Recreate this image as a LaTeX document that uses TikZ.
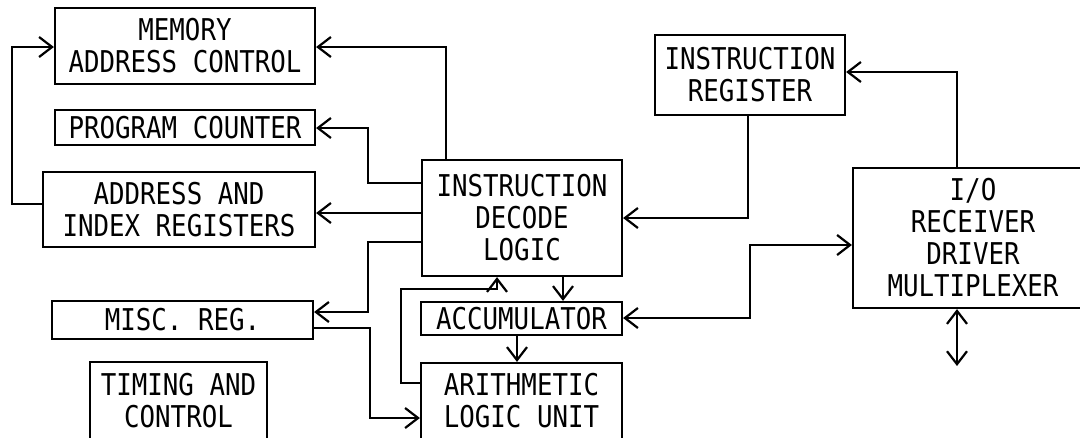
\documentclass[tikz,border=0pt]{standalone}
\usepackage{fontspec}
\usetikzlibrary{arrows.meta}
\newfontfamily\boxfont[FakeStretch=0.86]{DejaVu Sans Mono}
\begin{document}
\begin{tikzpicture}[x=1pt,y=-1pt,
  line width=2.2pt,
  blk/.style={draw, rectangle, inner sep=0pt, align=center,
    font=\boxfont\fontsize{30}{32}\selectfont},
  barb/.tip={Straight Barb[length=13pt,width=20pt,line width=2.2pt]},
  arr/.style={-barb},
  darr/.style={barb-barb}]
\useasboundingbox (0,0) rectangle (1080,437);

% blocks
\node[blk, minimum width=260pt, minimum height=76pt] (mac) at (185,46) {MEMORY\\ADDRESS CONTROL};
\node[blk, minimum width=260pt, minimum height=35pt] (pc) at (185,127.5) {PROGRAM COUNTER};
\node[blk, minimum width=272pt, minimum height=75pt] (air) at (179,209.5) {ADDRESS AND\\INDEX REGISTERS};
\node[blk, minimum width=261pt, minimum height=38pt] (misc) at (182.5,320) {MISC. REG.};
\node[blk, minimum width=177pt, minimum height=78pt] (tc) at (178.5,401) {TIMING AND\\CONTROL};
\node[blk, minimum width=200pt, minimum height=116pt] (idl) at (522,218) {INSTRUCTION\\DECODE\\LOGIC};
\node[blk, minimum width=201pt, minimum height=33pt] (acc) at (521.5,318.5) {ACCUMULATOR};
\node[blk, minimum width=201pt, minimum height=76pt] (alu) at (521.5,401) {ARITHMETIC\\LOGIC UNIT};
\node[blk, minimum width=190pt, minimum height=80pt] (ir) at (750,75) {INSTRUCTION\\REGISTER};
\node[blk, minimum width=240pt, minimum height=140pt] (io) at (973,238) {I/O\\RECEIVER\\DRIVER\\MULTIPLEXER};
\coordinate (ext) at (957,366);

% connectors
\draw[arr] (air.west |- 0,204) -- ++(-30,0) |- (mac.west |- 0,47);
\draw[arr] (idl.north -| 446,0) |- (mac.east |- 0,47);
\draw[arr] (idl.west |- 0,183) -| (368,128) -- (pc.east |- 0,128);
\draw[arr] (idl.west |- 0,213) -- (air.east |- 0,213);
\draw[arr] (idl.west |- 0,242) -| (368,312) -- (misc.east |- 0,312);
\draw[arr] (misc.east |- 0,328) -| (370,418) -- (alu.west |- 0,418);
\draw[arr] (alu.west |- 0,383) -| (401,289) -| (idl.south -| 497,0);
\draw[arr] (idl.south -| 563,0) -- (acc.north -| 563,0);
\draw[arr] (acc.south -| 517,0) -- (alu.north -| 517,0);
\draw[arr] (ir.south -| 748,0) |- (idl.east |- 0,218);
\draw[arr] (io.north -| 957,0) |- (ir.east |- 0,72);
\draw[darr] (acc.east |- 0,318) -| (750,245) -- (io.west |- 0,245);
\draw[darr] (io.south -| 957,0) -- (ext);
\end{tikzpicture}
\end{document}
